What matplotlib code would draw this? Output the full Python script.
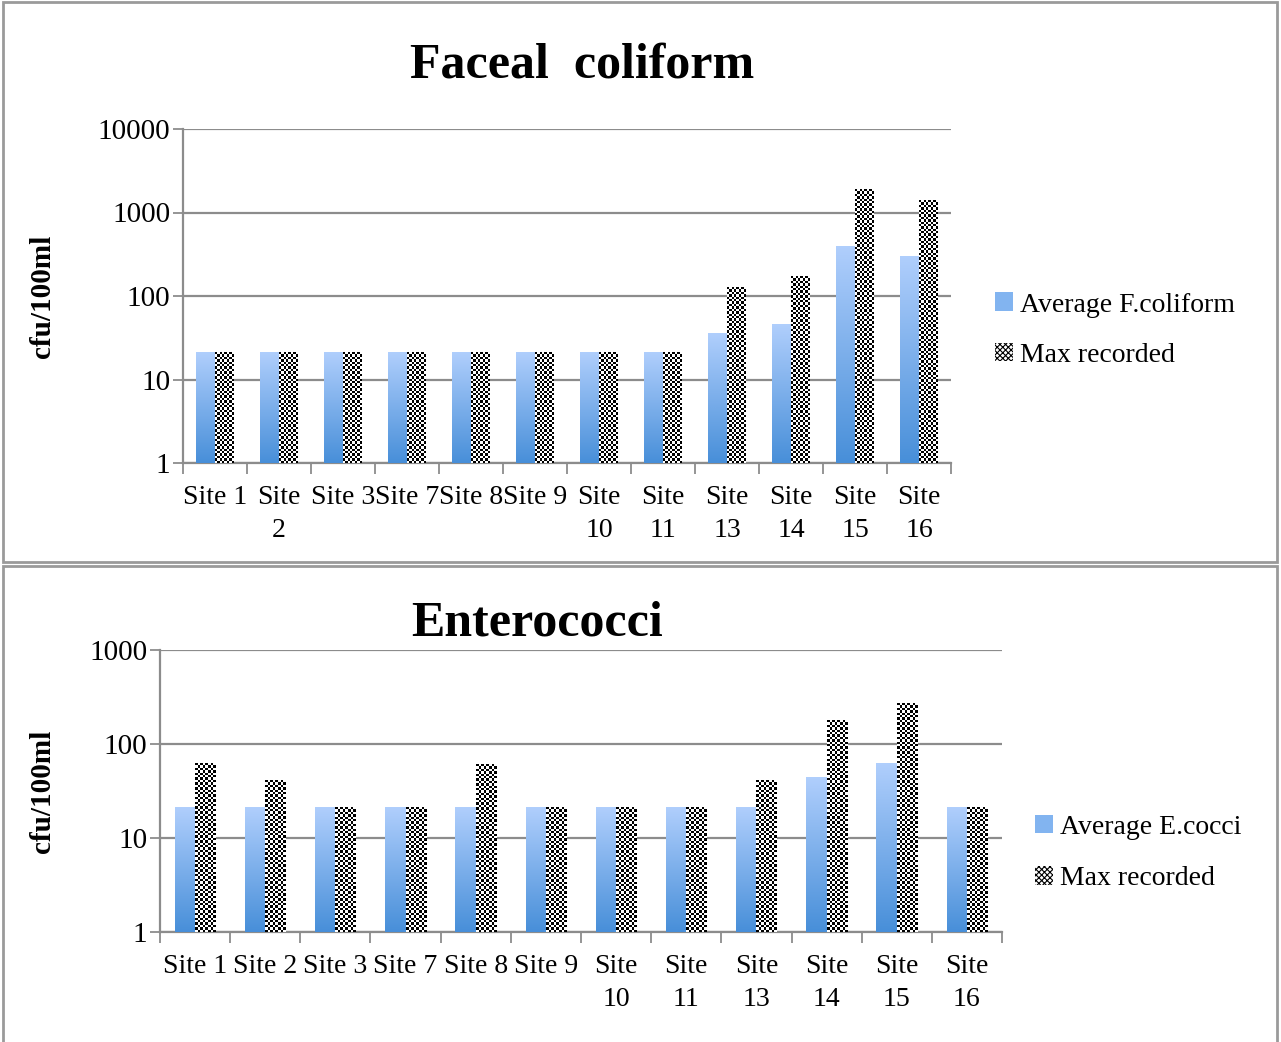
import numpy as np
import matplotlib
matplotlib.use("Agg")
import matplotlib.pyplot as plt
from matplotlib.patches import Rectangle, Patch
from matplotlib.image import BboxImage
from matplotlib.transforms import Bbox, TransformedBbox

plt.rcParams["font.family"] = ["Liberation Serif", "DejaVu Serif"]
plt.rcParams["hatch.linewidth"] = 0.8

sites = ["Site 1", "Site 2", "Site 3", "Site 7", "Site 8", "Site 9",
         "Site 10", "Site 11", "Site 13", "Site 14", "Site 15", "Site 16"]
fc_labels = ["Site 1", "Site\n2", "Site 3", "Site 7", "Site 8", "Site 9",
             "Site\n10", "Site\n11", "Site\n13", "Site\n14", "Site\n15", "Site\n16"]
ec_labels = ["Site 1", "Site 2", "Site 3", "Site 7", "Site 8", "Site 9",
             "Site\n10", "Site\n11", "Site\n13", "Site\n14", "Site\n15", "Site\n16"]

fc_avg = [20, 20, 20, 20, 20, 20, 20, 20, 35, 44, 390, 295]
fc_max = [20, 20, 20, 20, 20, 20, 20, 20, 126, 170, 1900, 1410]
ec_avg = [20, 20, 20, 20, 20, 20, 20, 20, 20, 43, 61, 20]
ec_max = [61, 40, 20, 20, 60, 20, 20, 20, 40, 175, 272, 20]

W, H = 1281, 1042
fig = plt.figure(figsize=(W / 100, H / 100), dpi=100)

GRID = "#8c8c8c"
TOP_BLUE = np.array([0.69, 0.81, 0.99])
BOT_BLUE = np.array([0.28, 0.56, 0.85])
FS = 20


def gradient():
    t = np.linspace(0, 1, 200)[:, None, None]
    col = TOP_BLUE * (1 - t) + BOT_BLUE * t
    return np.repeat(col, 4, axis=1)


def checker(wpx, hpx, cell=2.4):
    nx = max(2, int(round(wpx / cell)))
    ny = max(2, int(round(hpx / cell)))
    yy, xx = np.mgrid[0:ny, 0:nx]
    v = ((xx + yy) % 2).astype(float)
    return np.stack([v, v, v], axis=-1)


def panel(rect, title, labels, avg, mx, ymax, avg_name, title_xy, leg_xy, ylab_x, spacing):
    ax = fig.add_axes(rect)
    ax.set_yscale("log")
    ax.set_ylim(1, ymax)
    n = len(labels)
    x = np.arange(n)
    ax.set_xlim(-0.5, n - 0.5)
    bw = 0.29
    b1 = ax.bar(x - bw / 2, avg, bw, bottom=1, color="none", edgecolor="none")
    b2 = ax.bar(x + bw / 2, mx, bw, bottom=1, color="none", edgecolor="none")

    # fill the bars with a vertical gradient / checkerboard
    for p in b1.patches:
        x0, w = p.get_x(), p.get_width()
        bb = TransformedBbox(Bbox([[x0, 1], [x0 + w, p.get_y() + p.get_height()]]), ax.transData)
        ax.add_artist(BboxImage(bb, data=gradient(), interpolation="bilinear", zorder=3))
    for p in b2.patches:
        x0, w = p.get_x(), p.get_width()
        top = p.get_y() + p.get_height()
        d0 = ax.transData.transform((x0, 1))
        d1 = ax.transData.transform((x0 + w, top))
        bb = TransformedBbox(Bbox([[x0, 1], [x0 + w, top]]), ax.transData)
        ax.add_artist(BboxImage(bb, data=checker(d1[0] - d0[0], d1[1] - d0[1]),
                                interpolation="nearest", zorder=3))

    decades = 10.0 ** np.arange(0, int(np.log10(ymax)) + 1)
    ax.set_yticks(decades)
    ax.set_yticklabels([f"{int(v)}" for v in decades], fontsize=21)
    ax.yaxis.set_minor_locator(plt.NullLocator())
    ax.grid(axis="y", color=GRID, lw=1.6, zorder=0)
    ax.set_axisbelow(True)

    ax.set_xticks(x)
    ax.set_xticklabels(labels, fontsize=FS, linespacing=1.4)
    ax.set_xticks(np.arange(-0.5, n), minor=True)
    ax.tick_params(axis="x", which="major", length=0, pad=16)
    ax.tick_params(axis="x", which="minor", length=8, color=GRID, width=1.3)
    ax.tick_params(axis="y", length=7, color=GRID, width=1.3, pad=2)

    for s in ["top", "right"]:
        ax.spines[s].set_visible(False)
    for s in ["left", "bottom"]:
        ax.spines[s].set_color(GRID)
        ax.spines[s].set_linewidth(1.6)

    ax.set_ylabel("cfu/100ml", fontsize=21, fontweight="bold")
    ax.yaxis.set_label_coords(ylab_x, rect[1] + rect[3] / 2, transform=fig.transFigure)
    fig.text(title_xy[0] / W, 1 - title_xy[1] / H, title, fontsize=36,
             fontweight="bold", ha="center", va="center")

    handles = [Patch(facecolor="#82b4f0", edgecolor="none"),
               Patch(facecolor="white", edgecolor="black", hatch="xxxxxx", lw=0)]
    ax.legend(handles, [avg_name, "Max recorded"], loc="center left",
              bbox_to_anchor=(leg_xy[0] / W, 1 - leg_xy[1] / H),
              bbox_transform=fig.transFigure, frameon=False, fontsize=20,
              handlelength=0.65, handleheight=0.65, handletextpad=0.25,
              labelspacing=spacing, borderpad=0, borderaxespad=0)
    return ax


panel([183 / W, 1 - 463 / H, 768 / W, 334 / H], "Faceal  coliform",
      fc_labels, fc_avg, fc_max, 10000, "Average F.coliform",
      (582, 66), (995, 330), 56 / W, 0.9)
panel([160 / W, 1 - 932 / H, 842 / W, 282 / H], "Enterococci",
      ec_labels, ec_avg, ec_max, 1000, "Average E.cocci",
      (537, 623), (1035, 853), 56 / W, 0.95)

# frames around each chart
for y0, y1 in [(2, 562), (566, 1045)]:
    fig.add_artist(Rectangle((3 / W, 1 - y1 / H), 1274 / W, (y1 - y0) / H,
                             transform=fig.transFigure, fill=False,
                             edgecolor="#9a9a9a", lw=2))

fig.savefig("out.png", dpi=100)
